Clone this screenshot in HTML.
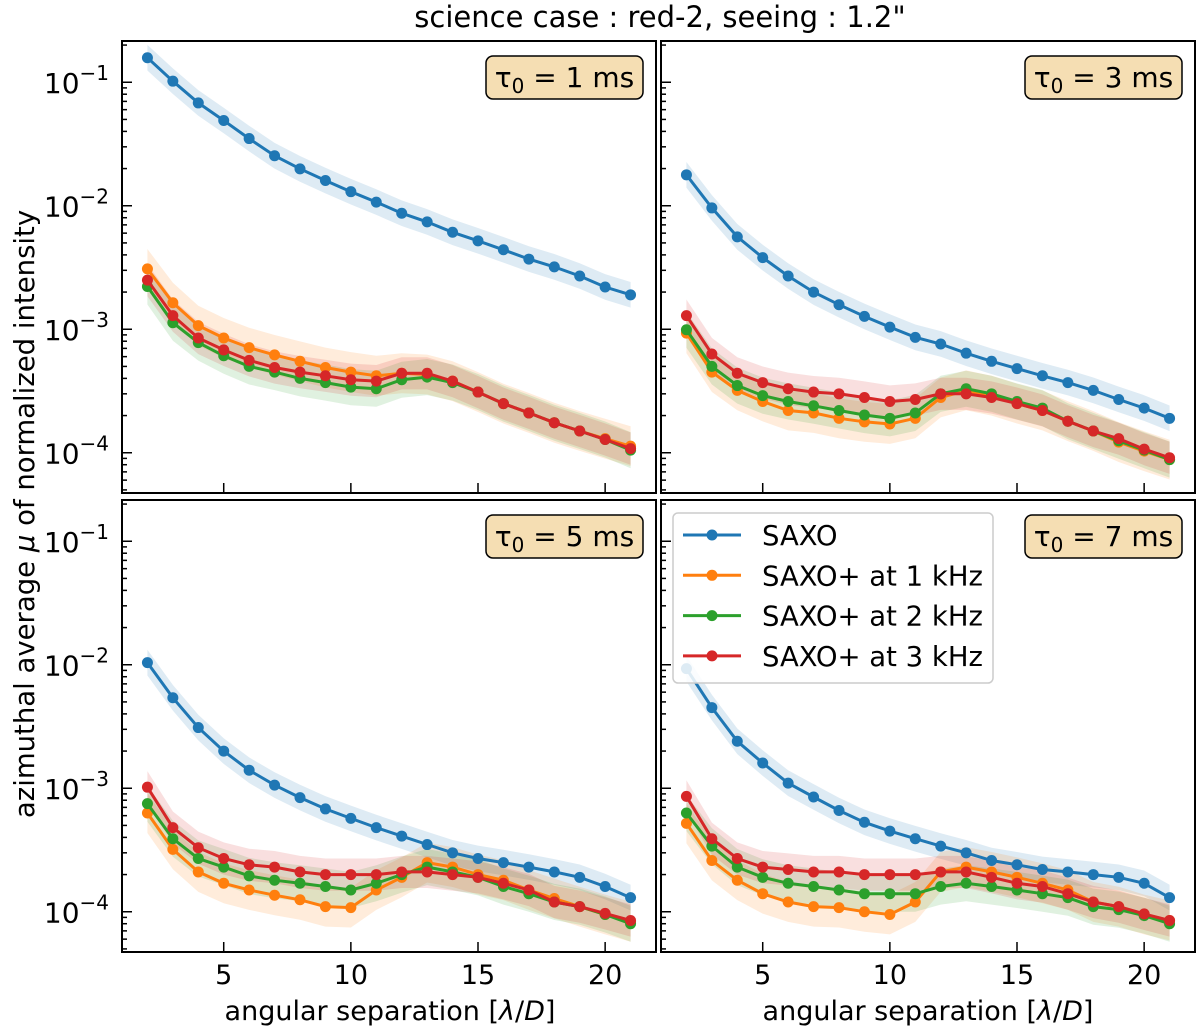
<!DOCTYPE html>
<html><head><meta charset="utf-8"><style>
html,body{margin:0;padding:0;background:#fff}
svg{display:block;font-family:"DejaVu Sans","Liberation Sans",sans-serif}
</style></head><body>
<svg id="chart" width="1200" height="1033" viewBox="0 0 1200 1033">
<text x="660" y="27" font-size="29" text-anchor="middle">science case : red-2, seeing : 1.2"</text>
<text transform="translate(34,514) rotate(-90)" font-size="27.5" text-anchor="middle">azimuthal average <tspan font-style="italic">μ</tspan> of normalized intensity</text>
<text x="390" y="1020" font-size="27" text-anchor="middle">angular separation [<tspan font-style="italic">λ</tspan>/<tspan font-style="italic">D</tspan>]</text>
<text x="928" y="1020" font-size="27" text-anchor="middle">angular separation [<tspan font-style="italic">λ</tspan>/<tspan font-style="italic">D</tspan>]</text>
</svg>
<script>
const xs = [2,3,4,5,6,7,8,9,10,11,12,13,14,15,16,17,18,19,20,21];
const seriesNames = ["SAXO","SAXO+ at 1 kHz","SAXO+ at 2 kHz","SAXO+ at 3 kHz"];
const seriesColors = ["#1f77b4","#ff7f0e","#2ca02c","#d62728"];
const tauLabels = ["1","3","5","7"];
const xTicks = [5,10,15,20];
const yTickExps = [-1,-2,-3,-4];
const bandFactor = [1.27,1.45,1.4,1.35];
const p1_saxo = [0.158,0.102,0.068,0.049,0.035,0.0254,0.0199,0.016,0.013,0.0107,0.0087,0.0074,0.0061,0.0052,0.0044,0.0037,0.0032,0.0027,0.0022,0.0019];
const p1_k1 = [0.00308,0.00164,0.00107,0.00085,0.00071,0.00062,0.00055,0.00049,0.00045,0.00042,0.00044,0.00043,0.00038,0.00031,0.00025,0.00021,0.000175,0.00015,0.00013,0.000113];
const p1_k2 = [0.00222,0.00113,0.00078,0.00061,0.0005,0.00045,0.0004,0.00037,0.00034,0.00033,0.00039,0.00041,0.00037,0.00031,0.00025,0.00021,0.000175,0.00015,0.000128,0.000105];
const p1_k3 = [0.0025,0.00129,0.00085,0.00068,0.00056,0.00049,0.00045,0.00042,0.00039,0.00038,0.00044,0.00044,0.00038,0.00031,0.00025,0.00021,0.000175,0.00015,0.000128,0.000108];
const p2_saxo = [0.0178,0.0096,0.0056,0.0038,0.0027,0.002,0.00158,0.00127,0.00104,0.00086,0.00076,0.00064,0.00055,0.00048,0.00042,0.00037,0.00032,0.00027,0.00023,0.00019];
const p2_k1 = [0.00093,0.00045,0.00032,0.00026,0.00022,0.00021,0.00019,0.000178,0.000171,0.00019,0.00028,0.00032,0.00029,0.00025,0.00022,0.00018,0.00015,0.000122,0.000103,0.000088];
const p2_k2 = [0.00099,0.0005,0.00035,0.00029,0.00026,0.00024,0.00022,0.000202,0.00019,0.00021,0.0003,0.00033,0.0003,0.00026,0.00023,0.00018,0.00015,0.000125,0.000105,0.000088];
const p2_k3 = [0.00129,0.00063,0.00044,0.00037,0.00033,0.00031,0.0003,0.00028,0.00026,0.00027,0.0003,0.0003,0.00028,0.00025,0.00022,0.00018,0.00015,0.00013,0.000107,0.000091];
const p3_saxo = [0.0104,0.0054,0.0031,0.002,0.0014,0.00106,0.00084,0.00068,0.00057,0.00048,0.00041,0.00035,0.0003,0.00027,0.00025,0.00023,0.00021,0.00019,0.00016,0.00013];
const p3_k1 = [0.00063,0.00032,0.00021,0.00017,0.00015,0.000136,0.000125,0.00011,0.000108,0.00015,0.00019,0.00025,0.00023,0.0002,0.00018,0.00015,0.000128,0.00011,0.000095,0.000083];
const p3_k2 = [0.00075,0.00039,0.00027,0.00023,0.000195,0.00018,0.00017,0.00016,0.00015,0.00017,0.0002,0.00023,0.00021,0.00019,0.00016,0.00014,0.00012,0.00011,0.000095,0.00008];
const p3_k3 = [0.00102,0.00048,0.00033,0.00027,0.00024,0.00023,0.00021,0.0002,0.0002,0.0002,0.00021,0.00021,0.0002,0.00019,0.00017,0.00015,0.00012,0.00011,0.000097,0.000085];
const p4_saxo = [0.0093,0.0045,0.0024,0.0016,0.0011,0.00085,0.00066,0.00053,0.00045,0.00039,0.00034,0.0003,0.00026,0.00024,0.00022,0.00021,0.0002,0.00019,0.00017,0.00013];
const p4_k1 = [0.00052,0.00026,0.00018,0.00014,0.00012,0.00011,0.000108,0.0001,0.000095,0.00012,0.00021,0.00023,0.00021,0.00019,0.00017,0.00015,0.00012,0.00011,0.000095,0.000085];
const p4_k2 = [0.00063,0.00034,0.00023,0.00019,0.00017,0.00016,0.00015,0.00014,0.00014,0.00014,0.00016,0.00017,0.00016,0.00015,0.00014,0.00013,0.00011,0.000104,0.000093,0.00008];
const p4_k3 = [0.00086,0.00039,0.00027,0.00023,0.00022,0.00021,0.00021,0.0002,0.0002,0.0002,0.00021,0.00021,0.00019,0.00017,0.00016,0.00014,0.00012,0.00011,0.000096,0.000085];
const panelData = [[p1_saxo,p1_k1,p1_k2,p1_k3],[p2_saxo,p2_k1,p2_k2,p2_k3],[p3_saxo,p3_k1,p3_k2,p3_k3],[p4_saxo,p4_k1,p4_k2,p4_k3]];

const NS = "http://www.w3.org/2000/svg";
const svg = document.getElementById('chart');
function mk(tag, attrs, parent){const e=document.createElementNS(NS,tag);for(const k in attrs)e.setAttribute(k,attrs[k]);(parent||svg).appendChild(e);return e;}
const panels = [{l:122,t:41},{l:661,t:41},{l:122,t:500},{l:661,t:500}];
const PW=534, PH=452, X0=1, X1=22;
const LOG_TOP=-0.666, LOG_BOT=-4.326;

panels.forEach((p,pi)=>{
  const xScale = v => p.l + (v-X0)/(X1-X0)*PW;
  const yScale = v => p.t + (LOG_TOP - Math.log10(v))/(LOG_TOP-LOG_BOT)*PH;
  const g = mk('g',{});
  
  
  const clipId='clip'+pi;
  const cp=mk('clipPath',{id:clipId},g); mk('rect',{x:p.l,y:p.t,width:PW,height:PH},cp);
  const plot=mk('g',{'clip-path':'url(#'+clipId+')'},g);
  panelData[pi].forEach((vals,si)=>{
    const f=bandFactor[si];
    let d='';
    vals.forEach((v,i)=>{d+=(i?'L':'M')+xScale(xs[i]).toFixed(1)+','+yScale(v*f).toFixed(1);});
    for(let i=vals.length-1;i>=0;i--) d+='L'+xScale(xs[i]).toFixed(1)+','+yScale(vals[i]/f).toFixed(1);
    const band=mk('path',{d:d+'Z',fill:seriesColors[si],'fill-opacity':0.15,stroke:'none'},plot);
    
    
  });
  panelData[pi].forEach((vals,si)=>{
    const sg=mk('g',{},plot);
    
    
    const pts=vals.map((v,i)=>xScale(xs[i]).toFixed(1)+','+yScale(v).toFixed(1)).join(' ');
    mk('polyline',{points:pts,fill:'none',stroke:seriesColors[si],'stroke-width':3},sg);
    vals.forEach((v,i)=>{
      const c=mk('circle',{cx:xScale(xs[i]),cy:yScale(v),r:5.5,fill:seriesColors[si]},sg);
      
      
    });
  });
  const tg=mk('g',{stroke:'#000','stroke-width':1.5},g);
  yTickExps.forEach(e=>{
    const y=yScale(Math.pow(10,e));
    mk('line',{x1:p.l,x2:p.l+10,y1:y,y2:y},tg);
    if(pi===0||pi===2){
      const t=mk('text',{x:p.l-13,y:y+11,'font-size':28,'text-anchor':'end',stroke:'none'},g);
      
      
      t.appendChild(document.createTextNode('10'));
      const s=mk('tspan',{dy:-13,'font-size':20},t); s.textContent='−'+(-e);
    }
  });
  for(let e=-5;e<=0;e++) for(let m=2;m<=9;m++){
    const v=m*Math.pow(10,e); const lv=Math.log10(v);
    if(lv>LOG_TOP||lv<LOG_BOT) continue;
    const y=yScale(v); mk('line',{x1:p.l,x2:p.l+5,y1:y,y2:y},tg);
  }
  xTicks.forEach(v=>{
    const x=xScale(v);
    mk('line',{x1:x,x2:x,y1:p.t+PH,y2:p.t+PH-10},tg);
    if(pi>=2){
      const t=mk('text',{x:x,y:p.t+PH+32,'font-size':27,'text-anchor':'middle'},g);
      
      
      t.textContent=v;
    }
  });
  mk('rect',{x:p.l,y:p.t,width:PW,height:PH,fill:'none',stroke:'#000','stroke-width':2},g);
  const bx=p.l+PW-170, by=p.t+15;
  const box=mk('rect',{x:bx,y:by,width:157,height:43,rx:7,fill:'#f5deb3',stroke:'#000','stroke-width':1.5},g);
  
  
  const tt=mk('text',{x:bx+78.5,y:by+31,'font-size':28,'text-anchor':'middle'},g);
  
  
  tt.appendChild(document.createTextNode('τ'));
  const sub=mk('tspan',{dy:6,'font-size':20},tt); sub.textContent='0';
  const rest=mk('tspan',{dy:-6},tt); rest.textContent=' = '+tauLabels[pi]+' ms';
});
const lg=mk('g',{});


mk('rect',{x:673,y:513,width:320,height:170,rx:5,fill:'#fff','fill-opacity':0.85,stroke:'#ccc','stroke-width':1.5},lg);
seriesNames.forEach((n,i)=>{
  const y=535+i*40.3;
  const e=mk('g',{},lg);
  
  
  mk('line',{x1:683,x2:741,y1:y,y2:y,stroke:seriesColors[i],'stroke-width':3},e);
  mk('circle',{cx:712,cy:y,r:5.5,fill:seriesColors[i]},e);
  const t=mk('text',{x:762,y:y+10,'font-size':27.5},e); t.textContent=n;
});
</script>
</body></html>
